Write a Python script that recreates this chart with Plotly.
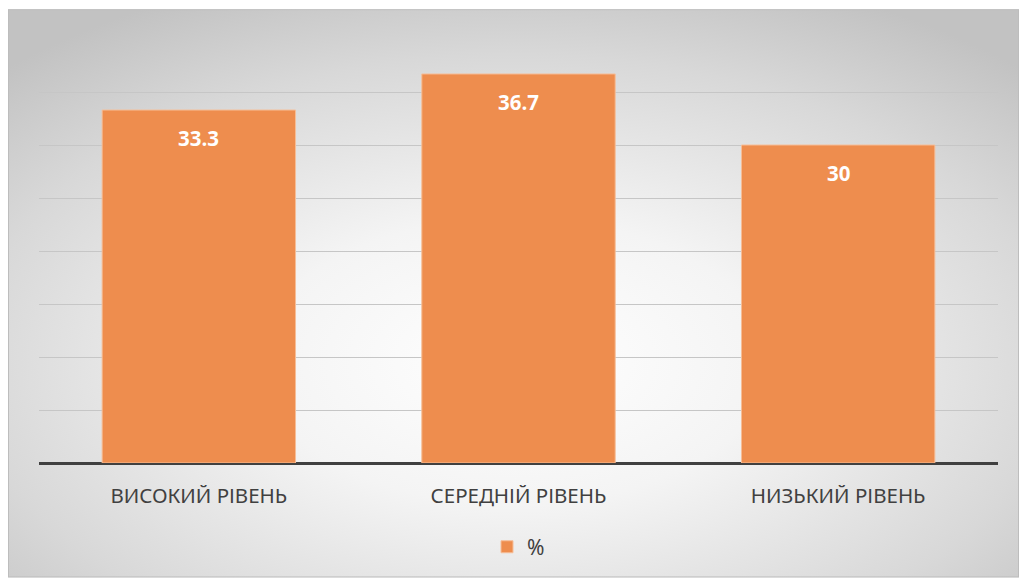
import plotly.graph_objects as go
import urllib.parse

categories = ["ВИСОКИЙ РІВЕНЬ", "СЕРЕДНІЙ РІВЕНЬ", "НИЗЬКИЙ РІВЕНЬ"]
values = [33.3, 36.7, 30]
labels = ["33.3", "36.7", "30"]
series_name = "%"

bar_color = "#EE8D4E"

svg = (
    '<svg xmlns="http://www.w3.org/2000/svg" width="1011" height="571" preserveAspectRatio="none">'
    '<defs><radialGradient id="g" cx="50%" cy="62%" r="72%" fx="50%" fy="62%">'
    '<stop offset="0%" stop-color="#ffffff"/>'
    '<stop offset="35%" stop-color="#f4f4f4"/>'
    '<stop offset="75%" stop-color="#d8d8d8"/>'
    '<stop offset="100%" stop-color="#c2c2c2"/>'
    '</radialGradient></defs>'
    '<rect x="0" y="0" width="1011" height="571" fill="url(#g)" stroke="#bdbdbd" stroke-width="2"/>'
    '</svg>'
)
src = "data:image/svg+xml;charset=utf-8," + urllib.parse.quote(svg)

fig = go.Figure()
fig.add_trace(go.Bar(
    x=categories, y=values, name=series_name,
    marker=dict(color=bar_color, line=dict(color="#F6BE98", width=1)),
    width=0.605, showlegend=True,
))

for c, v, t in zip(categories, values, labels):
    fig.add_annotation(x=c, y=v, text=t, showarrow=False, yshift=-28,
                       font=dict(family="Open Sans", size=20.5, color="white", weight="bold"))

L, R, T, B = 39, 21, 39, 115
W, H = 1019, 580
pw, ph = W - L - R, H - T - B

fig.add_layout_image(dict(
    source=src, xref="paper", yref="paper",
    x=(8 - L) / pw, y=(H - B - 9) / ph,
    sizex=(W - 8) / pw, sizey=(H - 9) / ph,
    xanchor="left", yanchor="top", sizing="stretch", layer="below",
))

fig.update_layout(
    width=W, height=H,
    margin=dict(l=L, r=R, t=T, b=B),
    paper_bgcolor="white", plot_bgcolor="rgba(0,0,0,0)",
    bargap=0.395,
    xaxis=dict(showgrid=False, showline=False, ticks="outside", ticklen=14,
               tickcolor="rgba(0,0,0,0)",
               tickfont=dict(family="Noto Sans", size=20.5, color="#404040")),
    yaxis=dict(range=[0, 40], dtick=5, showticklabels=False, showgrid=True,
               gridcolor="#c6c6c6", gridwidth=1, zeroline=True,
               zerolinecolor="#404040", zerolinewidth=3, fixedrange=True),
    legend=dict(orientation="h", x=0.5, xanchor="center", y=-0.15, yanchor="top",
                font=dict(family="Noto Sans", size=21, color="#404040"),
                bgcolor="rgba(0,0,0,0)", itemwidth=30),
    showlegend=True,
)

fig.write_html("out.html")
